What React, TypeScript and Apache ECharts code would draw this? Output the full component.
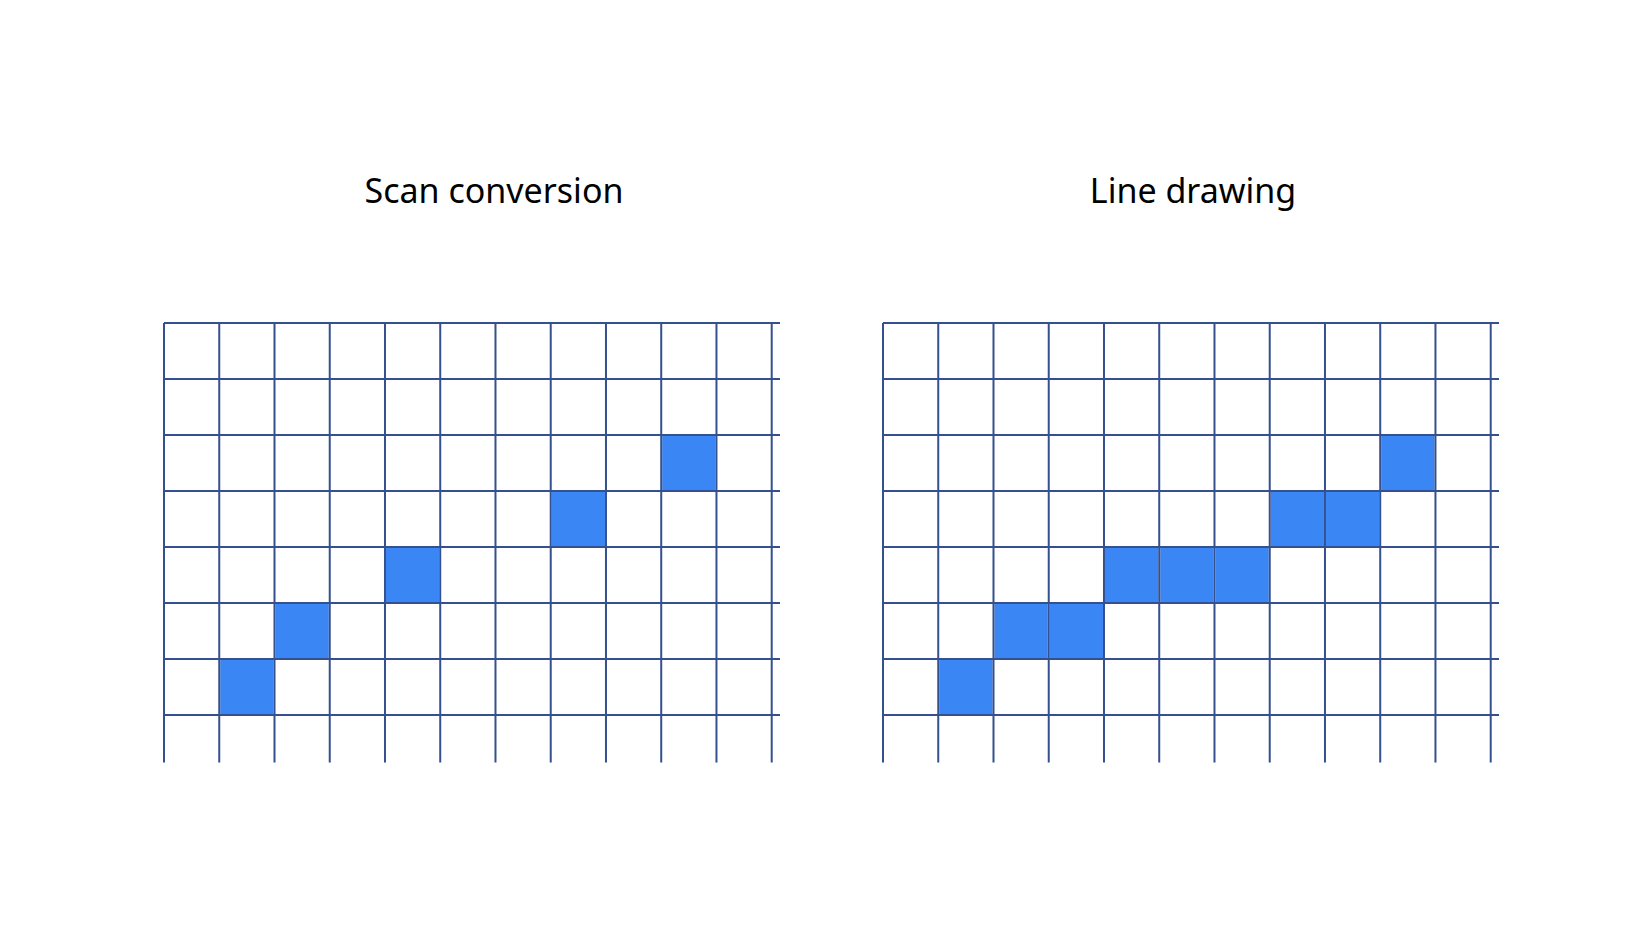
import { useEffect, useRef } from 'react';
import * as echarts from 'echarts';

const titles = ['Scan conversion', 'Line drawing'];
const columns = [0, 1, 2, 3, 4, 5, 6, 7, 8, 9, 10, 11];
const rows = [0, 1, 2, 3, 4, 5, 6, 7];
// filled cells as [column, row from top]
const scanCells = [[1, 6], [2, 5], [4, 4], [7, 3], [9, 2]];
const lineCells = [[1, 6], [2, 5], [3, 5], [4, 4], [5, 4], [6, 4], [7, 3], [8, 3], [9, 2]];

const X_MAX = 11.15;
const Y_MAX = 7.85;
const LINE = '#34508f';
const FILL = '#3b86f5';

export default function App() {
  const ref = useRef<HTMLDivElement>(null);

  useEffect(() => {
    if (!ref.current) return;
    const chart = echarts.init(ref.current, null, { renderer: 'svg' });

    const gridLines = [
      ...columns.map((c) => [c, 0, c, Y_MAX]),
      ...rows.map((r) => [0, r, X_MAX, r]),
    ];

    const lineSeries = (i: number) => ({
      type: 'custom',
      xAxisIndex: i,
      yAxisIndex: i,
      z: 3,
      data: gridLines,
      renderItem: (_p: any, api: any) => {
        const a = api.coord([api.value(0), api.value(1)]);
        const b = api.coord([api.value(2), api.value(3)]);
        return {
          type: 'line',
          shape: { x1: a[0], y1: a[1], x2: b[0], y2: b[1] },
          style: { stroke: LINE, lineWidth: 2 },
        };
      },
    });

    const cellSeries = (i: number, cells: number[][]) => ({
      type: 'custom',
      xAxisIndex: i,
      yAxisIndex: i,
      z: 2,
      data: cells,
      renderItem: (_p: any, api: any) => {
        const a = api.coord([api.value(0), api.value(1)]);
        const b = api.coord([api.value(0) + 1, api.value(1) + 1]);
        return {
          type: 'rect',
          shape: { x: a[0] + 1, y: a[1] + 1, width: b[0] - a[0] - 2, height: b[1] - a[1] - 2 },
          style: { fill: FILL },
        };
      },
    });

    const axisX = (i: number) => ({ type: 'value', gridIndex: i, min: 0, max: X_MAX, show: false });
    const axisY = (i: number) => ({ type: 'value', gridIndex: i, min: 0, max: Y_MAX, inverse: true, show: false });

    chart.setOption({
      animation: false,
      backgroundColor: '#ffffff',
      title: titles.map((t, i) => ({
        text: t,
        left: i === 0 ? 489 : 1188,
        top: 168,
        textAlign: 'center',
        textStyle: { fontFamily: 'Noto Sans', fontSize: 34, fontWeight: 'normal', color: '#000' },
      })),
      grid: [
        { left: 164, top: 323, width: 616, height: 439.6 },
        { left: 883, top: 323, width: 616, height: 439.6 },
      ],
      xAxis: [axisX(0), axisX(1)],
      yAxis: [axisY(0), axisY(1)],
      series: [cellSeries(0, scanCells), cellSeries(1, lineCells), lineSeries(0), lineSeries(1)],
    });

    return () => chart.dispose();
  }, []);

  return <div ref={ref} style={{ position: 'fixed', left: 0, top: 0, width: 1648, height: 944 }} />;
}
